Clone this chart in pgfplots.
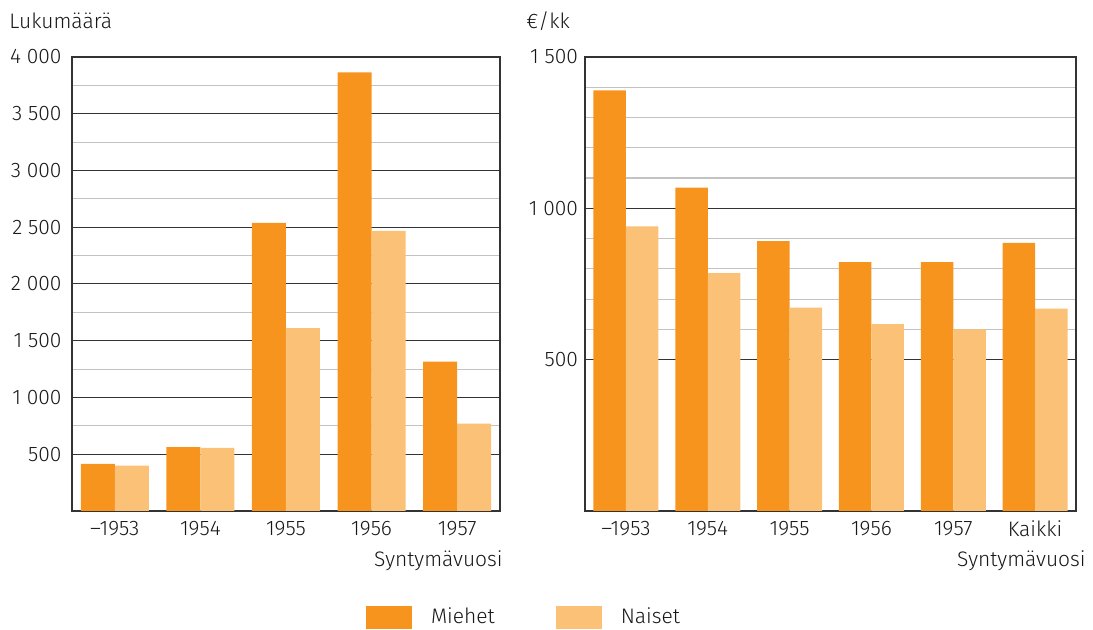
\documentclass[border=0pt]{standalone}
\usepackage{fontspec}
\setmainfont{Fira Sans}[UprightFont=* Light]
\usepackage{pgfplots}
\usepackage{pgfplotstable}
\pgfplotsset{compat=1.18}
\definecolor{miehet}{RGB}{247,148,30}
\definecolor{naiset}{RGB}{251,194,119}
\definecolor{framec}{RGB}{51,51,51}
\definecolor{minorgrid}{RGB}{195,195,195}
\definecolor{textc}{RGB}{25,22,23}

\pgfplotstableread{
x M N
0 415 400
1 562 556
2 2538 1612
3 3865 2467
4 1315 770
}\lukumaara

\pgfplotstableread{
x M N
0 1390 940
1 1068 786
2 892 672
3 822 617
4 822 600
5 886 669
}\euroa

\pgfplotsset{
 common/.style={
  scale only axis, height=227pt, ymin=0,
  ybar=0pt,
  axis line style={framec, line width=0.7pt},
  major tick length=0pt, minor tick length=0pt,
  ymajorgrids, yminorgrids,
  major grid style={framec, line width=0.5pt},
  minor grid style={minorgrid, line width=0.6pt},
  font=\fontsize{10.5}{12}\selectfont,
  tick label style={font=\fontsize{10.5}{12}\selectfont, text=textc},
  /pgf/number format/assume math mode=true,
  /pgf/number format/1000 sep={\ },
  xticklabel style={yshift=-1.5pt},
  xlabel={Syntymävuosi},
  xlabel style={at={(axis description cs:1,0)}, anchor=east, inner sep=0pt, yshift=-25pt, text=textc},
  legend image code/.code={\fill[##1] (0pt,-5.75pt) rectangle (23pt,5.75pt);},
 }
}

\begin{document}
\begin{tikzpicture}
\useasboundingbox (-36pt,-59.5pt) rectangle (510.5pt,255.5pt);
\begin{axis}[common,
  at={(0pt,0pt)}, anchor=south west,
  width=214pt,
  ymax=4000,
  ytick={500,1000,...,4000},
  minor y tick num=1,
  yticklabel style={xshift=-1.7pt},
  xmin=-0.5, xmax=4.5,
  xtick={0,1,2,3,4},
  xticklabels={–1953,1954,1955,1956,1957},
  bar width=17pt,
  xlabel style={xshift=1.5pt},
  legend columns=2,
  legend style={at={(0.687,-0.2335)}, anchor=west, draw=none, inner sep=0pt, outer sep=0pt,
    font=\fontsize{10.5}{12}\selectfont, text=textc,
    nodes={inner sep=0pt, anchor=west},
    /tikz/every odd column/.append style={column sep=9.5pt},
    /tikz/every even column/.append style={column sep=30.5pt}},
]
\addplot[fill=miehet, draw=none] table[x=x, y=M] {\lukumaara};
\addlegendentry{Miehet}
\addplot[fill=naiset, draw=none] table[x=x, y=N] {\lukumaara};
\addlegendentry{Naiset}
\end{axis}

\begin{axis}[common,
  at={(256.5pt,0pt)}, anchor=south west,
  width=245.5pt,
  ymax=1500,
  ytick={500,1000,1500},
  minor y tick num=4,
  yticklabel style={xshift=0pt},
  xmin=-0.5, xmax=5.5,
  xtick={0,1,2,3,4,5},
  xticklabels={–1953,1954,1955,1956,1957,Kaikki},
  bar width=16.25pt,
  xlabel style={xshift=5pt},
]
\addplot[fill=miehet, draw=none] table[x=x, y=M] {\euroa};
\addplot[fill=naiset, draw=none] table[x=x, y=N] {\euroa};
\end{axis}

\node[anchor=base west, inner sep=0pt, text=textc, font=\fontsize{10.5}{12}\selectfont] at (-31.5pt,241pt) {Lukumäärä};
\node[anchor=base west, inner sep=0pt, text=textc, font=\fontsize{10.5}{12}\selectfont] at (227pt,241pt) {€/kk};
\end{tikzpicture}
\end{document}
